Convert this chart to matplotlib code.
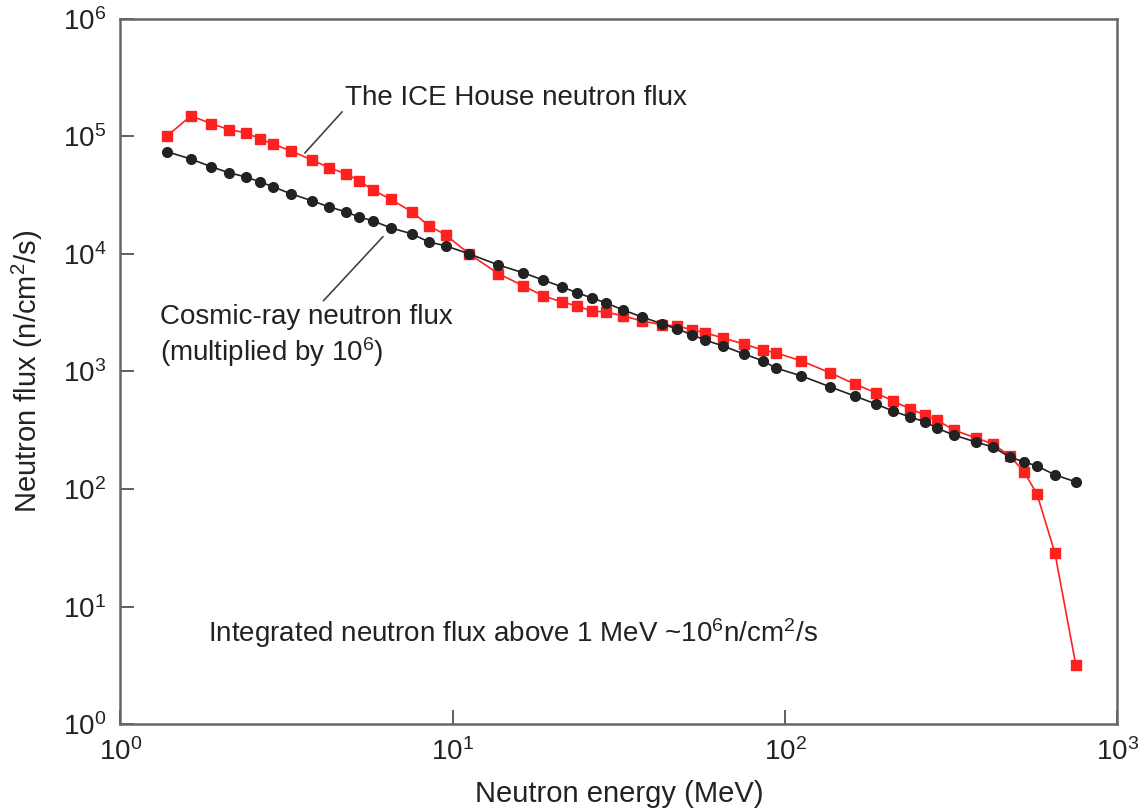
import numpy as np
import matplotlib
matplotlib.use('Agg')
import matplotlib.pyplot as plt
from matplotlib import font_manager
from matplotlib.ticker import FixedLocator, FixedFormatter, NullLocator

# energy grid shared by both curves (MeV)
energy = [1.38, 1.63, 1.88, 2.12, 2.39, 2.63, 2.88, 3.26, 3.77, 4.24,
          4.77, 5.22, 5.75, 6.52, 7.54, 8.48, 9.53, 11.2, 13.7, 16.3,
          18.7, 21.3, 23.7, 26.2, 28.9, 32.5, 37.1, 42.6, 47.3, 52.5,
          57.4, 65.0, 75.2, 85.8, 93.8, 112, 137, 162, 188, 211,
          238, 264, 286, 322, 375, 422, 475, 524, 573, 649, 750]

ice_house = [1.0e5, 1.49e5, 1.28e5, 1.14e5, 1.07e5, 9.5e4, 8.6e4, 7.5e4, 6.3e4, 5.4e4,
             4.8e4, 4.2e4, 3.5e4, 2.9e4, 2.28e4, 1.73e4, 1.45e4, 1.0e4, 6.8e3, 5.35e3,
             4.4e3, 3.9e3, 3.6e3, 3.27e3, 3.2e3, 2.97e3, 2.69e3, 2.49e3, 2.44e3, 2.26e3,
             2.13e3, 1.93e3, 1.71e3, 1.52e3, 1.44e3, 1.23e3, 971, 783, 656, 561,
             480, 427, 387, 318, 272, 242, 191, 140, 90.6, 28.5, 3.18]

cosmic = [7.4e4, 6.4e4, 5.5e4, 4.9e4, 4.5e4, 4.1e4, 3.72e4, 3.24e4, 2.83e4, 2.51e4,
          2.28e4, 2.06e4, 1.91e4, 1.66e4, 1.48e4, 1.26e4, 1.17e4, 1.0e4, 8.06e3, 6.9e3,
          6.0e3, 5.24e3, 4.66e3, 4.22e3, 3.83e3, 3.34e3, 2.91e3, 2.54e3, 2.30e3, 2.05e3,
          1.85e3, 1.65e3, 1.41e3, 1.23e3, 1.07e3, 916, 738, 618, 528, 461,
          410, 372, 330, 288, 251, 228, 187, 170, 157, 132, 115]

x_ticks = [1, 10, 100, 1000]
x_labels = ['10$^{0}$', '10$^{1}$', '10$^{2}$', '10$^{3}$']
y_ticks = [1, 10, 100, 1e3, 1e4, 1e5, 1e6]
y_labels = ['10$^{0}$', '10$^{1}$', '10$^{2}$', '10$^{3}$', '10$^{4}$', '10$^{5}$', '10$^{6}$']

names = {f.name for f in font_manager.fontManager.ttflist}
family = 'Liberation Sans Narrow' if 'Liberation Sans Narrow' in names else 'Liberation Sans'
plt.rcParams['font.family'] = [family, 'DejaVu Sans']
plt.rcParams['mathtext.fontset'] = 'custom'
plt.rcParams['mathtext.rm'] = family
plt.rcParams['mathtext.it'] = family
plt.rcParams['mathtext.default'] = 'rm'

fig = plt.figure(figsize=(11.46, 8.11), dpi=100)
ax = fig.add_axes([0.105, 0.107, 0.870, 0.870])

ax.plot(energy, cosmic, color='#222222', lw=1.2, marker='o', ms=7, zorder=3)
ax.plot(energy, ice_house, color='#ff2020', lw=1.2, marker='s', ms=7.5, zorder=2)

ax.set_xscale('log')
ax.set_yscale('log')
ax.set_xlim(1, 1000)
ax.set_ylim(1, 1e6)

ax.xaxis.set_major_locator(FixedLocator(x_ticks))
ax.xaxis.set_major_formatter(FixedFormatter(x_labels))
ax.yaxis.set_major_locator(FixedLocator(y_ticks))
ax.yaxis.set_major_formatter(FixedFormatter(y_labels))
ax.xaxis.set_minor_locator(NullLocator())
ax.yaxis.set_minor_locator(NullLocator())
ax.tick_params(direction='in', length=10, width=1.2, color='#444444',
               labelsize=20, pad=10, labelcolor='#222222')

for sp in ax.spines.values():
    sp.set_color('#666666')
    sp.set_linewidth(1.8)

ax.set_xlabel('Neutron energy (MeV)', fontsize=21, color='#222222', labelpad=10)
ax.set_ylabel('Neutron flux (n/cm$^{2}$/s)', fontsize=21, color='#222222', labelpad=13)

# annotations
ax.annotate('The ICE House neutron flux', xy=(3.59, 7.2e4), xytext=(4.74, 2.1e5),
            fontsize=20, color='#222222', va='center', ha='left',
            arrowprops=dict(arrowstyle='-', color='#444444', lw=1.2,
                            shrinkA=0, shrinkB=0, relpos=(0, 0.1)))
ax.annotate('Cosmic-ray neutron flux\n(multiplied by 10$^{6}$)',
            xy=(6.17, 1.4e4), xytext=(1.315, 2.0e3),
            fontsize=20, color='#222222', va='center', ha='left', linespacing=1.2,
            arrowprops=dict(arrowstyle='-', color='#444444', lw=1.2,
                            shrinkA=0, shrinkB=0, relpos=(0.55, 1.0)))
ax.text(1.83, 5.95, 'Integrated neutron flux above 1 MeV ~10$^{6}$n/cm$^{2}$/s',
        fontsize=20, color='#222222', va='center', ha='left')

fig.savefig('out.png', dpi=100)
